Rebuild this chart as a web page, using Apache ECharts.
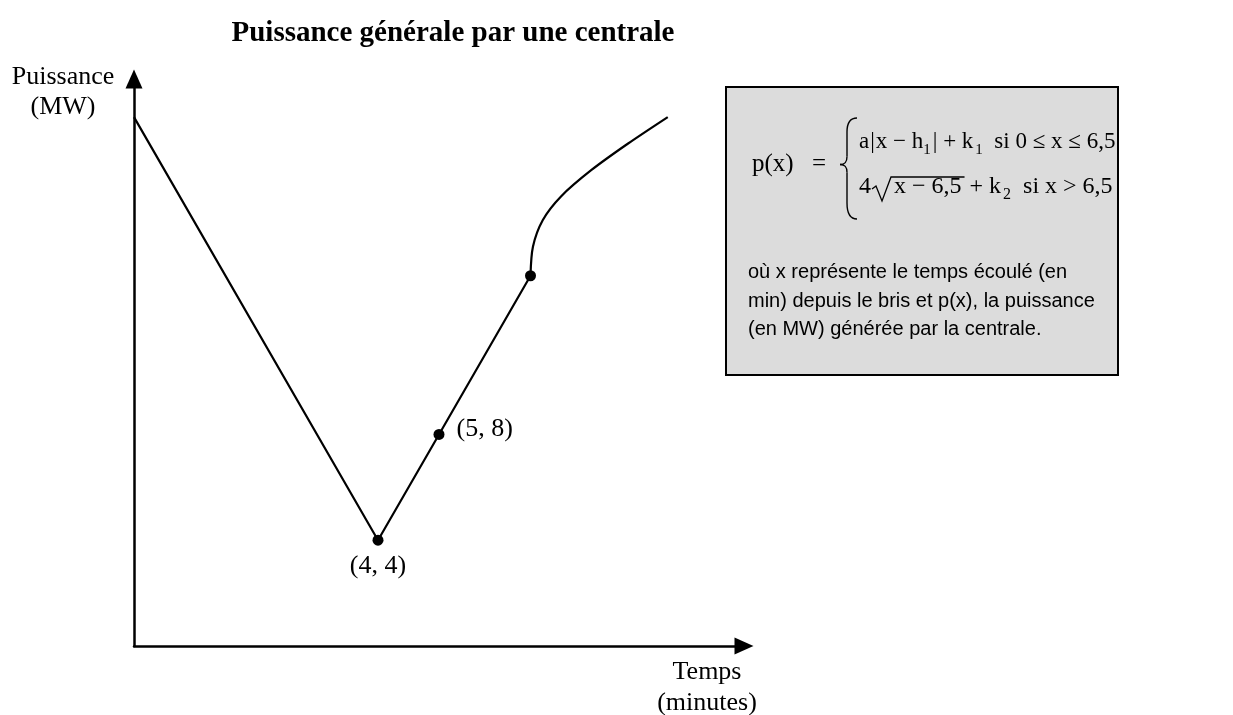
<!DOCTYPE html>
<html>
<head>
<meta charset="utf-8">
<title>Puissance générale par une centrale</title>
<script src="https://cdn.jsdelivr.net/npm/echarts@6/dist/echarts.min.js"></script>
<style>
  html, body { margin: 0; padding: 0; background: #fff; }
  #chart { width: 1233px; height: 715px; }
</style>
</head>
<body>
<div id="chart"></div>
<script>
// graph: x = minutes, y = MW
const lineX = [0, 4, 5, 6.5]
const lineY = [20, 4, 8, 14]
const curveX = [6.5, 6.54, 6.7, 7, 7.5, 8.1, 8.75]
const curveY = [14, 15.1, 16.1, 17, 18, 19, 20]
const dotX = [4, 5, 6.5]
const dotY = [4, 8, 14]
const dotLabels = ['(4, 4)', '(5, 8)', '']

const serif = '"Liberation Serif", "Times New Roman", serif'
const sans = '"Liberation Sans", Arial, sans-serif'

const pairs = (xs, ys) => xs.map((x, i) => [x, ys[i]])

// measure text so the formula pieces can be chained
const ctx = document.createElement('canvas').getContext('2d')
const textWidth = (str, size) => {
  ctx.font = size + 'px ' + serif
  return ctx.measureText(str).width
}

// one formula row, pieces laid left to right, subscripts dropped
const formulaRow = (x, y, size, parts, out) => {
  parts.forEach(p => {
    const s = p.sub ? Math.round(size * 0.66) : size
    out.push({
      type: 'text', x: x, y: y + (p.sub ? 8 : 0),
      style: { text: p.t, font: s + 'px ' + serif, fill: '#000', align: 'left', verticalAlign: 'middle' }
    })
    x += textWidth(p.t, s) + (p.gap || 0)
  })
  return x
}

const boxX = 726, boxY = 87, boxW = 392, boxH = 288
const row1 = 142, row2 = 187, rowX = 859
const mid = (row1 + row2) / 2

const stroke = { stroke: '#000', lineWidth: 1.4, fill: 'none' }
const formula = []
formula.push({
  type: 'rect',
  shape: { x: boxX, y: boxY, width: boxW, height: boxH },
  style: { fill: '#dcdcdc', stroke: '#000', lineWidth: 2 }
})
formula.push(
  { type: 'text', x: 752, y: mid, style: { text: 'p(x)', font: '25px ' + serif, fill: '#000', verticalAlign: 'middle' } },
  { type: 'text', x: 812, y: mid, style: { text: '=', font: '25px ' + serif, fill: '#000', verticalAlign: 'middle' } }
)
// left brace, two hooks + stem + middle point
formula.push(
  { type: 'bezierCurve', shape: { x1: 857, y1: row1 - 24, cpx1: 849, cpy1: row1 - 24, cpx2: 847, cpy2: row1 - 18, x2: 847, y2: row1 - 10 }, style: stroke },
  { type: 'line', shape: { x1: 847, y1: row1 - 10, x2: 847, y2: mid - 8 }, style: stroke },
  { type: 'bezierCurve', shape: { x1: 847, y1: mid - 8, cpx1: 847, cpy1: mid - 2, cpx2: 845, cpy2: mid, x2: 840, y2: mid }, style: stroke },
  { type: 'bezierCurve', shape: { x1: 840, y1: mid, cpx1: 845, cpy1: mid, cpx2: 847, cpy2: mid + 2, x2: 847, y2: mid + 8 }, style: stroke },
  { type: 'line', shape: { x1: 847, y1: mid + 8, x2: 847, y2: row2 + 16 }, style: stroke },
  { type: 'bezierCurve', shape: { x1: 847, y1: row2 + 16, cpx1: 847, cpy1: row2 + 25, cpx2: 849, cpy2: row2 + 32, x2: 857, y2: row2 + 32 }, style: stroke }
)
formulaRow(rowX, row1, 23, [
  { t: 'a', gap: 1 }, { t: '|', gap: 1 }, { t: 'x − h' }, { t: '1', sub: true, gap: 2 },
  { t: '|' }, { t: ' + k', gap: 2 }, { t: '1', sub: true }, { t: '  si 0 ≤ x ≤ 6,5' }
], formula)
// second row with the radical drawn by hand
let x2 = formulaRow(rowX, row2, 24, [{ t: '4' }], formula)
const radicand = 'x − 6,5'
const radW = textWidth(radicand, 24)
formula.push({
  type: 'polyline',
  shape: { points: [[x2 + 1, row2 + 2], [x2 + 5, row2 - 1], [x2 + 11, row2 + 14], [x2 + 20, row2 - 10], [x2 + 24 + radW + 2, row2 - 10]] },
  style: { stroke: '#000', lineWidth: 1.3, fill: 'none' }
})
x2 = formulaRow(x2 + 23, row2, 24, [{ t: radicand, gap: 2 }], formula)
formulaRow(x2, row2, 24, [{ t: ' + k', gap: 2 }, { t: '2', sub: true }, { t: '  si x > 6,5' }], formula)
// explanation under the formula
formula.push({
  type: 'text', x: 748, y: 301,
  style: {
    text: 'où x représente le temps écoulé (en\nmin) depuis le bris et p(x), la puissance\n(en MW) générée par la centrale.',
    font: '20px ' + sans, lineHeight: 28.5, fill: '#000', verticalAlign: 'middle'
  }
})

const axisArrow = {
  show: true,
  onZero: false,
  symbol: ['none', 'triangle'],
  symbolSize: [17, 19],
  lineStyle: { color: '#000', width: 2.5 }
}

const chart = echarts.init(document.getElementById('chart'))
chart.setOption({
  animation: false,
  title: {
    text: 'Puissance générale par une centrale',
    left: 453,
    top: 19,
    padding: 0,
    textAlign: 'center',
    textStyle: { fontFamily: serif, fontWeight: 'bold', fontSize: 29, color: '#000' }
  },
  grid: { left: 134, top: 79, width: 610, height: 567 },
  xAxis: {
    type: 'value', min: 0, max: 10,
    axisLine: axisArrow,
    axisTick: { show: false }, axisLabel: { show: false }, splitLine: { show: false }
  },
  yAxis: {
    type: 'value', min: 0, max: 21.44,
    axisLine: axisArrow,
    axisTick: { show: false }, axisLabel: { show: false }, splitLine: { show: false }
  },
  series: [
    {
      name: 'linéaire',
      type: 'line',
      data: pairs(lineX, lineY),
      symbol: 'none',
      lineStyle: { color: '#000', width: 2.2 }
    },
    {
      name: 'racine',
      type: 'line',
      data: pairs(curveX, curveY),
      symbol: 'none',
      smooth: 0.3,
      lineStyle: { color: '#000', width: 2.2 }
    },
    {
      name: 'points',
      type: 'scatter',
      data: pairs(dotX, dotY).map((v, i) => ({
        value: v,
        label: i === 0 ? { position: 'bottom', distance: 7 } : { position: 'right', distance: 12, offset: [0, -5] }
      })),
      symbolSize: 11,
      itemStyle: { color: '#000', opacity: 1 },
      label: {
        show: true,
        formatter: p => dotLabels[p.dataIndex],
        fontFamily: serif,
        fontSize: 26,
        color: '#000',
        opacity: 1
      }
    }
  ],
  graphic: formula.concat([
    {
      type: 'text', x: 63, y: 92,
      style: { text: 'Puissance\n(MW)', font: '26px ' + serif, lineHeight: 30, align: 'center', verticalAlign: 'middle', fill: '#000' }
    },
    {
      type: 'text', x: 707, y: 688,
      style: { text: 'Temps\n(minutes)', font: '26px ' + serif, lineHeight: 31, align: 'center', verticalAlign: 'middle', fill: '#000' }
    }
  ])
})
</script>
</body>
</html>
